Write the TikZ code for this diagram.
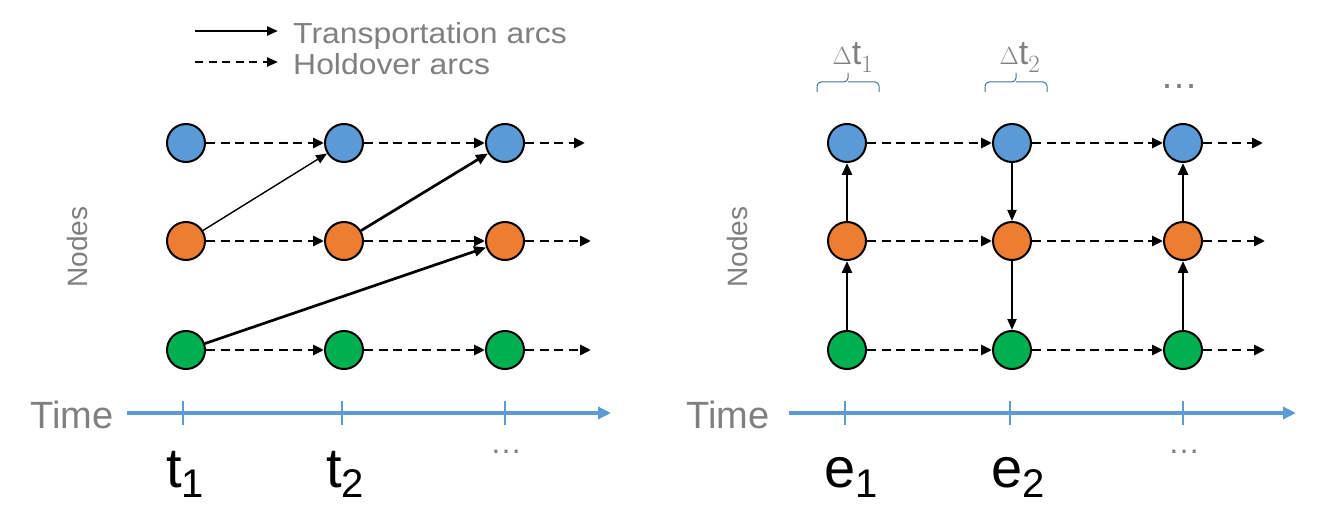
\documentclass[tikz,border=0pt]{standalone}
\usepackage{fontspec}
\setmainfont{Liberation Sans}
\usetikzlibrary{arrows.meta,decorations.pathreplacing}
\definecolor{nblue}{HTML}{5B9BD5}
\definecolor{norange}{HTML}{ED7D31}
\definecolor{ngreen}{HTML}{00B050}
\definecolor{tgray}{HTML}{808080}
\definecolor{bracec}{HTML}{41719C}
\begin{document}
\begin{tikzpicture}[x=1pt,y=-1pt,
  vnode/.style={circle,draw=black,line width=2pt,minimum size=38pt,inner sep=0pt},
  bnode/.style={vnode,fill=nblue},
  onode/.style={vnode,fill=norange},
  gnode/.style={vnode,fill=ngreen},
  hold/.style={line width=2.8pt,dash pattern=on 9pt off 5.5pt,-{Triangle[length=11pt,width=10pt]}},
  trans/.style={line width=2.7pt,-{Triangle[length=12pt,width=10pt]}},
  midtrans/.style={line width=1.9pt,-{Triangle[length=11pt,width=9pt]}},
  thintrans/.style={line width=1.4pt,-{Triangle[length=11pt,width=9pt]}},
  axis/.style={nblue,line width=3.5pt,-{Triangle[length=13pt,width=12pt]}},
  tick/.style={nblue,line width=2.5pt},
  graytext/.style={text=tgray,inner sep=0pt},
  legtext/.style={graytext,anchor=base west,xscale=1.1,font=\fontsize{29}{34}\selectfont},
  lbl/.style={inner sep=0pt,anchor=base},
  brc/.style={bracec,line width=1pt,rounded corners=4pt}
]
\useasboundingbox (0,0) rectangle (1322,521);

% legend
\coordinate (la1) at (195,31); \coordinate (lb1) at (278,31);
\coordinate (la2) at (195,62); \coordinate (lb2) at (278,62);
\draw[line width=2.4pt,-{Triangle[length=11pt,width=9pt]}] (la1) -- (lb1);
\draw[line width=2.4pt,dash pattern=on 8pt off 5.5pt,-{Triangle[length=11pt,width=9pt]}] (la2) -- (lb2);
\node[legtext] (lt) at (293,44) {Transportation arcs};
\node[legtext] (lh) at (293,75) {Holdover arcs};

% ---------- left diagram ----------
\node[bnode] (b1) at (186,143) {};
\node[bnode] (b2) at (344,143) {};
\node[bnode] (b3) at (505,143) {};
\node[onode] (o1) at (186,241) {};
\node[onode] (o2) at (344,241) {};
\node[onode] (o3) at (505,241) {};
\node[gnode] (g1) at (186,350) {};
\node[gnode] (g2) at (344,350) {};
\node[gnode] (g3) at (505,350) {};
\coordinate (eb) at (585,143);
\coordinate (eo) at (591,241);
\coordinate (eg) at (591,350);

\draw[hold] (b1) -- (b2); \draw[hold] (b2) -- (b3); \draw[hold] (b3) -- (eb);
\draw[hold] (o1) -- (o2); \draw[hold] (o2) -- (o3); \draw[hold] (o3) -- (eo);
\draw[hold] (g1) -- (g2); \draw[hold] (g2) -- (g3); \draw[hold] (g3) -- (eg);
\draw[thintrans] (o1) -- (b2);
\draw[trans] (o2) -- (b3);
\draw[trans] (g1) -- (o3);

\node[graytext,rotate=90,font=\fontsize{28}{32}\selectfont] (nl) at (77,247) {Nodes};

\node[graytext,anchor=base west,font=\fontsize{38}{44}\selectfont] (timel) at (30,428) {Time};
\coordinate (axl0) at (127,413); \coordinate (axl1) at (611,413);
\draw[axis] (axl0) -- (axl1);
\foreach \x/\n in {183/a,342/b,505/c}{
  \coordinate (tl\n0) at (\x,401); \coordinate (tl\n1) at (\x,425);
  \draw[tick] (tl\n0) -- (tl\n1);
}
\node[lbl,font=\fontsize{56}{60}\selectfont] (t1) at (185,487) {t\raisebox{-10pt}{\fontsize{40}{40}\selectfont 1}};
\node[lbl,font=\fontsize{56}{60}\selectfont] (t2) at (345,487) {t\raisebox{-10pt}{\fontsize{40}{40}\selectfont 2}};
\node[graytext,font=\fontsize{32}{36}\selectfont] (dl) at (506,452) {\ldots};

% ---------- right diagram ----------
\node[bnode] (rb1) at (847,143) {};
\node[bnode] (rb2) at (1012,143) {};
\node[bnode] (rb3) at (1183,143) {};
\node[onode] (ro1) at (847,241) {};
\node[onode] (ro2) at (1012,241) {};
\node[onode] (ro3) at (1183,241) {};
\node[gnode] (rg1) at (847,350) {};
\node[gnode] (rg2) at (1012,350) {};
\node[gnode] (rg3) at (1183,350) {};
\coordinate (reb) at (1263,143);
\coordinate (reo) at (1265,241);
\coordinate (reg) at (1265,350);

\draw[hold] (rb1) -- (rb2); \draw[hold] (rb2) -- (rb3); \draw[hold] (rb3) -- (reb);
\draw[hold] (ro1) -- (ro2); \draw[hold] (ro2) -- (ro3); \draw[hold] (ro3) -- (reo);
\draw[hold] (rg1) -- (rg2); \draw[hold] (rg2) -- (rg3); \draw[hold] (rg3) -- (reg);
\draw[trans] (rg1) -- (ro1); \draw[trans] (ro1) -- (rb1);
\draw[midtrans] (rb2) -- (ro2); \draw[midtrans] (ro2) -- (rg2);
\draw[trans] (rg3) -- (ro3); \draw[trans] (ro3) -- (rb3);

\node[graytext,rotate=90,font=\fontsize{28}{32}\selectfont] (nr) at (737,247) {Nodes};

\node[graytext,anchor=base west,font=\fontsize{38}{44}\selectfont] (timer) at (686,428) {Time};
\coordinate (axr0) at (789,413); \coordinate (axr1) at (1296,413);
\draw[axis] (axr0) -- (axr1);
\foreach \x/\n in {845/a,1010/b,1183/c}{
  \coordinate (tr\n0) at (\x,401); \coordinate (tr\n1) at (\x,425);
  \draw[tick] (tr\n0) -- (tr\n1);
}
\node[lbl,font=\fontsize{56}{60}\selectfont] (e1) at (851,487) {e\raisebox{-10pt}{\fontsize{40}{40}\selectfont 1}};
\node[lbl,font=\fontsize{56}{60}\selectfont] (e2) at (1018,487) {e\raisebox{-10pt}{\fontsize{40}{40}\selectfont 2}};
\node[graytext,font=\fontsize{32}{36}\selectfont] (dr) at (1184,452) {\ldots};

% delta t labels and braces
\node[lbl,text=tgray,font=\fontsize{34}{38}\selectfont] (dt1) at (853,65) {$\Delta\mathrm{t}_1$};
\node[lbl,text=tgray,font=\fontsize{34}{38}\selectfont] (dt2) at (1020,65) {$\Delta\mathrm{t}_2$};
\draw[brc] (817,92) -- (817,82) -- (848,82) -- (848,73);
\draw[brc] (879,92) -- (879,82) -- (848,82);
\draw[brc] (985,92) -- (985,82) -- (1016,82) -- (1016,73);
\draw[brc] (1047,92) -- (1047,82) -- (1016,82);
\node[graytext,font=\fontsize{38}{40}\selectfont] (dtop) at (1179,86) {\ldots};
\end{tikzpicture}
\end{document}
